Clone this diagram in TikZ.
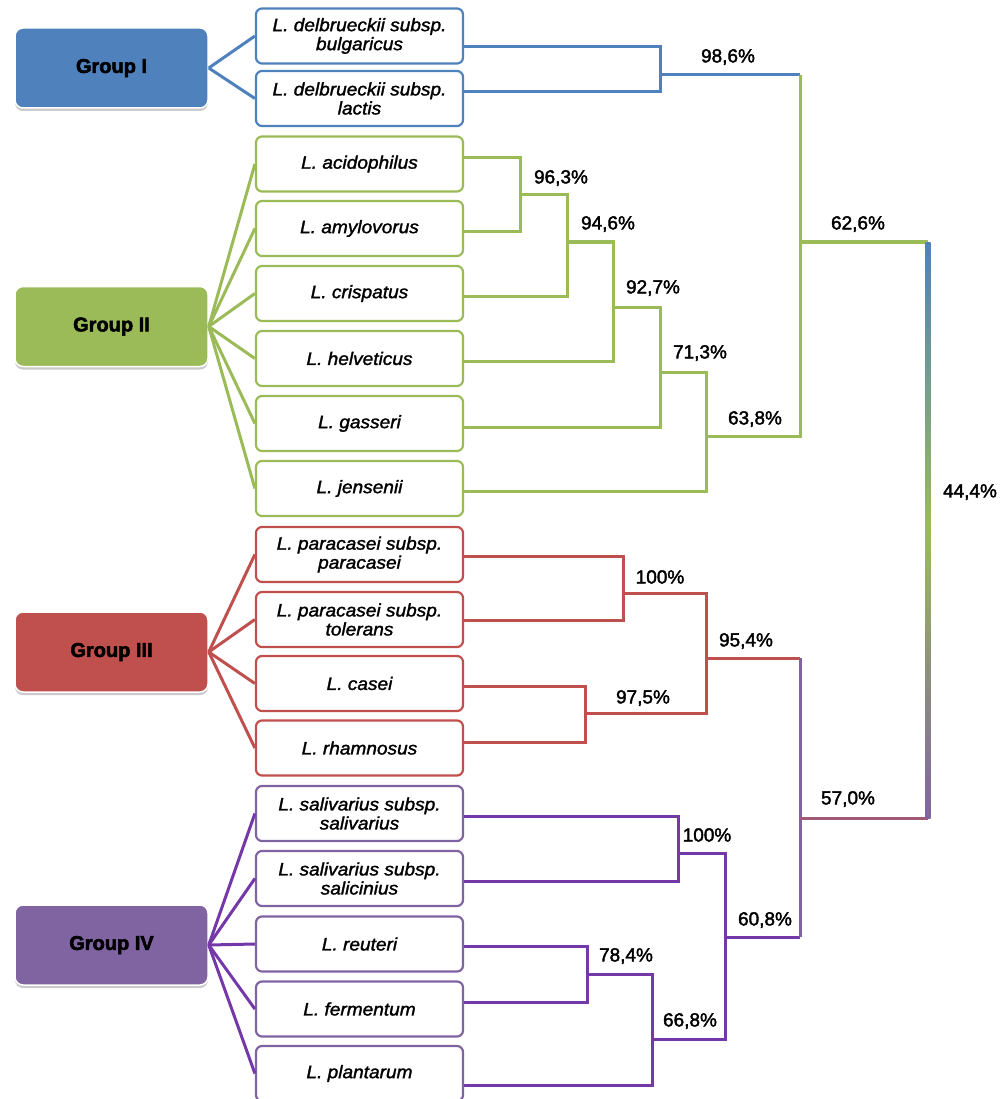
\documentclass[tikz,border=0pt]{standalone}
\usepackage{fontspec}
\setmainfont{Liberation Sans}
\newfontfamily\leaffont{Liberation Sans}[FakeStretch=1.06,FakeBold=1.6]
\newfontfamily\pctfont{Liberation Sans}[FakeBold=2]
\newfontfamily\grpfont{Liberation Sans}[FakeBold=2.5]
\usetikzlibrary{shadows}
\definecolor{cblue}{HTML}{4F81BD}
\definecolor{cgreen}{HTML}{9BBB59}
\definecolor{cred}{HTML}{C0504D}
\definecolor{cpurp}{HTML}{8064A2}
\definecolor{cpline}{HTML}{7438A8}
\begin{document}
\begin{tikzpicture}[x=1pt,y=-1pt,
  groupbox/.style={rounded corners=8pt, minimum width=193pt, minimum height=80pt,
    draw=white, line width=1.5pt,
    drop shadow={shadow xshift=0pt, shadow yshift=-3pt, opacity=0.35, fill=black!60},
    font=\grpfont\bfseries\fontsize{20}{22}\selectfont},
  leaf/.style={rounded corners=6pt, minimum width=207pt, minimum height=55pt,
    line width=2.2pt, fill=white, align=center, inner sep=2pt,
    font=\leaffont\itshape\fontsize{18}{19}\selectfont},
  pct/.style={font=\pctfont\fontsize{19}{20}\selectfont, inner sep=0pt},
  lnk/.style={line width=3pt},
  fan/.style={line width=3pt}]
\useasboundingbox (0,0) rectangle (1002,1099);

% group boxes
\node[groupbox, fill=cblue]  (g1) at (111.5,68)  {Group I};
\node[groupbox, fill=cgreen] (g2) at (111.5,326.5) {Group II};
\node[groupbox, fill=cred]   (g3) at (111.5,652) {Group III};
\node[groupbox, fill=cpurp]  (g4) at (111.5,945) {Group IV};

% leaves
\node[leaf, draw=cblue]  (b1)  at (359.5,36)   {L. delbrueckii subsp.\\bulgaricus};
\node[leaf, draw=cblue]  (b2)  at (359.5,98.5) {L. delbrueckii subsp.\\lactis};
\node[leaf, draw=cgreen] (b3)  at (359.5,164)  {L. acidophilus};
\node[leaf, draw=cgreen] (b4)  at (359.5,228.5){L. amylovorus};
\node[leaf, draw=cgreen] (b5)  at (359.5,293.5){L. crispatus};
\node[leaf, draw=cgreen] (b6)  at (359.5,358.5){L. helveticus};
\node[leaf, draw=cgreen] (b7)  at (359.5,423.5){L. gasseri};
\node[leaf, draw=cgreen] (b8)  at (359.5,488.5){L. jensenii};
\node[leaf, draw=cred]   (b9)  at (359.5,554.5){L. paracasei subsp.\\paracasei};
\node[leaf, draw=cred]   (b10) at (359.5,619.5){L. paracasei subsp.\\tolerans};
\node[leaf, draw=cred]   (b11) at (359.5,683.5){L. casei};
\node[leaf, draw=cred]   (b12) at (359.5,748)  {L. rhamnosus};
\node[leaf, draw=cpurp]  (b13) at (359.5,813.5){L. salivarius subsp.\\salivarius};
\node[leaf, draw=cpurp]  (b14) at (359.5,878.5){L. salivarius subsp.\\salicinius};
\node[leaf, draw=cpurp]  (b15) at (359.5,944)  {L. reuteri};
\node[leaf, draw=cpurp]  (b16) at (359.5,1009) {L. fermentum};
\node[leaf, draw=cpurp]  (b17) at (359.5,1073.5){L. plantarum};

% fan connectors
\foreach \b in {b1,b2} \draw[fan, cblue] (g1.east) -- (\b.west);
\foreach \b in {b3,b4,b5,b6,b7,b8} \draw[fan, cgreen] (g2.east) -- (\b.west);
\foreach \b in {b9,b10,b11,b12} \draw[fan, cred] (g3.east) -- (\b.west);
\foreach \b in {b13,b14,b15,b16,b17} \draw[fan, cpline] (g4.east) -- (\b.west);

% junctions
\coordinate (cI)    at (660,75);
\coordinate (c963)  at (520,195);
\coordinate (c946)  at (567,242);
\coordinate (c927)  at (613,307);
\coordinate (c713)  at (660,372);
\coordinate (c638)  at (706,436);
\coordinate (c626)  at (800,242);
\coordinate (c100a) at (623,593);
\coordinate (c975)  at (585,713);
\coordinate (c954)  at (706,658);
\coordinate (c100b) at (678,853);
\coordinate (c784)  at (587,974);
\coordinate (c668)  at (652,1039);
\coordinate (c608)  at (725,937);
\coordinate (c570)  at (800,818);
\coordinate (c444)  at (928,530);

% Group I
\draw[lnk,cblue] (b1.east |- 0,47) -| (cI);
\draw[lnk,cblue] (b2.east |- 0,92) -| (cI);
% Group II
\draw[lnk,cgreen] (b3.east |- 0,158) -| (c963);
\draw[lnk,cgreen] (b4.east |- 0,232) -| (c963);
\draw[lnk,cgreen] (c963) -| (c946);
\draw[lnk,cgreen] (b5.east |- 0,296) -| (c946);
\draw[lnk,cgreen] (c946) -| (c927);
\draw[lnk,cgreen] (b6.east |- 0,361) -| (c927);
\draw[lnk,cgreen] (c927) -| (c713);
\draw[lnk,cgreen] (b7.east |- 0,427) -| (c713);
\draw[lnk,cgreen] (c713) -| (c638);
\draw[lnk,cgreen] (b8.east |- 0,491) -| (c638);
% I + II
\draw[lnk,cblue] (cI) -- (cI -| c626);
\draw[lnk,cgreen] (cI -| c626) -- (c626);
\draw[lnk,cgreen] (c638) -| (c626);
% Group III
\draw[lnk,cred] (b9.east |- 0,556) -| (c100a);
\draw[lnk,cred] (b10.east |- 0,620) -| (c100a);
\draw[lnk,cred] (b11.east |- 0,686) -| (c975);
\draw[lnk,cred] (b12.east |- 0,742) -| (c975);
\draw[lnk,cred] (c100a) -| (c954);
\draw[lnk,cred] (c975) -| (c954);
% Group IV
\draw[lnk,cpline] (b13.east |- 0,816) -| (c100b);
\draw[lnk,cpline] (b14.east |- 0,881) -| (c100b);
\draw[lnk,cpline] (b15.east |- 0,946) -| (c784);
\draw[lnk,cpline] (b16.east |- 0,1002) -| (c784);
\draw[lnk,cpline] (c784) -| (c668);
\draw[lnk,cpline] (b17.east |- 0,1085) -| (c668);
\draw[lnk,cpline] (c100b) -| (c608);
\draw[lnk,cpline] (c668) -| (c608);
% III + IV
\draw[lnk,cred] (c954) -- (c954 -| c570);
\draw[lnk,cpline] (c608) -- (c608 -| c570);
\draw[lnk,cpurp] (c954 -| c570) -- (c608 -| c570);
% root
\draw[lnk,cgreen] (c626) -- (c626 -| c444);
\draw[lnk,cred!50!cpurp] (c570) -- (c570 -| c444);
\shade[top color=cblue, bottom color=cpurp, middle color=cgreen]
  ([xshift=-2.5pt]c626 -| c444) rectangle ([xshift=2.5pt]c570 -| c444);

% labels
\node[pct] (l986)  at (728,57)   {98,6\%};
\node[pct] (l963)  at (561,178)  {96,3\%};
\node[pct] (l946)  at (608,224)  {94,6\%};
\node[pct] (l927)  at (653,288)  {92,7\%};
\node[pct] (l713)  at (700,353)  {71,3\%};
\node[pct] (l638)  at (755,419)  {63,8\%};
\node[pct] (l626)  at (858,224)  {62,6\%};
\node[pct] (l444)  at (970,492)  {44,4\%};
\node[pct] (l100a) at (660,577)  {100\%};
\node[pct] (l975)  at (643,698)  {97,5\%};
\node[pct] (l954)  at (746,641)  {95,4\%};
\node[pct] (l570)  at (848,799)  {57,0\%};
\node[pct] (l100b) at (707,835)  {100\%};
\node[pct] (l784)  at (626,956)  {78,4\%};
\node[pct] (l668)  at (690,1021) {66,8\%};
\node[pct] (l608)  at (765,920)  {60,8\%};
\end{tikzpicture}
\end{document}
